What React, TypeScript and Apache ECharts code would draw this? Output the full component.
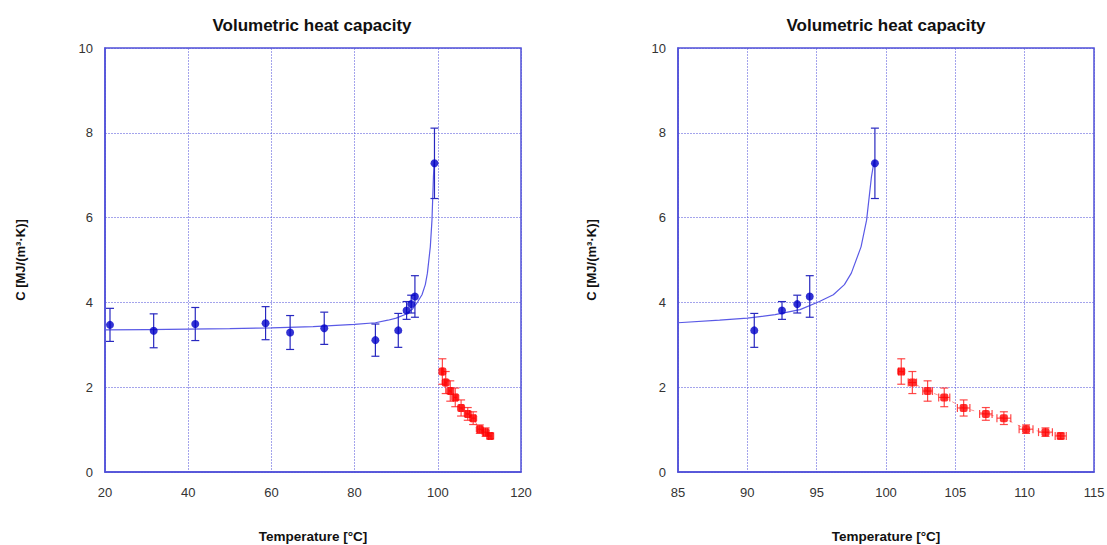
import React, { useEffect, useRef } from "react";
import * as echarts from "echarts";

// Fitted curve
const fitT = [20, 30, 40, 50, 60, 70, 80, 85, 88, 90, 92, 93.8, 95.2, 96.2, 97, 97.5, 98.2, 98.6, 98.95, 99.15];
const fitC = [3.35, 3.36, 3.37, 3.38, 3.4, 3.43, 3.48, 3.52, 3.58, 3.63, 3.71, 3.83, 4.02, 4.18, 4.42, 4.69, 5.31, 5.94, 6.96, 7.35];

// Blue measurements
const blueT = [21.2, 31.7, 41.7, 58.6, 64.5, 72.7, 85.0, 90.5, 92.5, 93.6, 94.5, 99.2];
const blueC = [3.47, 3.33, 3.49, 3.51, 3.29, 3.39, 3.11, 3.34, 3.81, 3.96, 4.14, 7.28];
const blueErr = [0.39, 0.4, 0.39, 0.39, 0.4, 0.38, 0.38, 0.4, 0.21, 0.21, 0.49, 0.83];

// Red measurements
const redT = [101.1, 101.9, 103.0, 104.2, 105.6, 107.2, 108.5, 110.1, 111.5, 112.6];
const redC = [2.37, 2.11, 1.91, 1.76, 1.51, 1.37, 1.27, 1.01, 0.94, 0.85];
const redErr = [0.3, 0.26, 0.24, 0.22, 0.19, 0.15, 0.15, 0.1, 0.1, 0.07];
const redTErr = [0.2, 0.3, 0.35, 0.4, 0.45, 0.45, 0.5, 0.5, 0.5, 0.4];

// Axis ranges
const leftX = { min: 20, max: 120, interval: 20 };
const rightX = { min: 85, max: 115, interval: 5 };

const titleText = "Volumetric heat capacity";
const xName = "Temperature [°C]";
const yName = "C [MJ/(m³·K)]";

const FONT = "'Liberation Sans', Arial, sans-serif";
const AXIS_COLOR = "#5050d8";
const GRID_COLOR = "rgba(90,90,220,0.55)";

export default function App() {
  const ref = useRef<HTMLDivElement>(null);
  useEffect(() => {
    if (!ref.current) return;
    const chart = echarts.init(ref.current, undefined, { renderer: "svg" });

    const fitData = fitT.map((t, i) => [t, fitC[i]]);

    const errRender = (color: string) => (params: any, api: any) => {
      const x = api.value(0);
      const y = api.value(1);
      const e = api.value(2);
      const xe = api.value(3);
      const top = api.coord([x, y + e]);
      const bot = api.coord([x, y - e]);
      const cap = 4;
      const style = { stroke: color, lineWidth: 1.2, fill: "none" };
      const children: any[] = [
        { type: "line", shape: { x1: top[0], y1: top[1], x2: bot[0], y2: bot[1] }, style },
        { type: "line", shape: { x1: top[0] - cap, y1: top[1], x2: top[0] + cap, y2: top[1] }, style },
        { type: "line", shape: { x1: bot[0] - cap, y1: bot[1], x2: bot[0] + cap, y2: bot[1] }, style },
      ];
      if (xe > 0) {
        const l = api.coord([x - xe, y]);
        const r = api.coord([x + xe, y]);
        children.push(
          { type: "line", shape: { x1: l[0], y1: l[1], x2: r[0], y2: r[1] }, style },
          { type: "line", shape: { x1: l[0], y1: l[1] - cap, x2: l[0], y2: l[1] + cap }, style },
          { type: "line", shape: { x1: r[0], y1: r[1] - cap, x2: r[0], y2: r[1] + cap }, style }
        );
      }
      return { type: "group", children };
    };

    const xAxisBase = (rng: { min: number; max: number; interval: number }, gridIndex: number) => ({
      type: "value",
      gridIndex,
      min: rng.min,
      max: rng.max,
      interval: rng.interval,
      name: xName,
      nameLocation: "middle",
      nameGap: 57,
      nameTextStyle: { fontFamily: FONT, fontWeight: "bold", fontSize: 13.5, color: "#111" },
      axisLine: { show: true, lineStyle: { color: AXIS_COLOR, width: 1.5 } },
      axisTick: { show: false },
      axisLabel: { fontFamily: FONT, fontSize: 13, color: "#333", margin: 14 },
      splitLine: { show: true, lineStyle: { color: GRID_COLOR, type: [2, 1], width: 1 } },
    });
    const yAxisBase = (gridIndex: number, gap: number) => ({
      type: "value",
      gridIndex,
      min: 0,
      max: 10,
      interval: 2,
      name: yName,
      nameLocation: "middle",
      nameGap: gap,
      nameRotate: 90,
      nameTextStyle: { fontFamily: FONT, fontWeight: "bold", fontSize: 13, color: "#111" },
      axisLine: { show: true, lineStyle: { color: AXIS_COLOR, width: 1.5 } },
      axisTick: { show: false },
      axisLabel: { fontFamily: FONT, fontSize: 13, color: "#333", margin: 12 },
      splitLine: { show: true, lineStyle: { color: GRID_COLOR, type: [2, 1], width: 1 } },
    });

    const seriesFor = (idx: number, rng: { min: number; max: number }) => {
      const inR = (t: number) => t > rng.min && t < rng.max;
      const blueIdx = blueT.map((_, i) => i).filter((i) => inR(blueT[i]));
      const redIdx = redT.map((_, i) => i).filter((i) => inR(redT[i]));
      const blueData = blueIdx.map((i) => [blueT[i], blueC[i]]);
      const blueErrData = blueIdx.map((i) => [blueT[i], blueC[i], blueErr[i], 0]);
      const redData = redIdx.map((i) => [redT[i], redC[i]]);
      const redErrData = redIdx.map((i) => [redT[i], redC[i], redErr[i], redTErr[i]]);
      return [
        {
          type: "line",
          xAxisIndex: idx,
          yAxisIndex: idx,
          data: fitData,
          showSymbol: false,
          symbol: "none",
          lineStyle: { color: "#5a5ae6", width: 1.2 },
          clip: true,
          z: 2,
        },
        {
          type: "line",
          xAxisIndex: idx,
          yAxisIndex: idx,
          data: redData,
          symbol: "none",
          lineStyle: { color: "rgba(255,60,60,0.55)", width: 1, type: [4, 6] },
          z: 2,
        },
        {
          type: "custom",
          xAxisIndex: idx,
          yAxisIndex: idx,
          data: blueErrData,
          renderItem: errRender("#2828c0"),
          encode: { x: 0, y: 1 },
          clip: true,
          z: 3,
        },
        {
          type: "custom",
          xAxisIndex: idx,
          yAxisIndex: idx,
          data: redErrData,
          renderItem: errRender("rgba(255,40,40,0.85)"),
          encode: { x: 0, y: 1 },
          clip: true,
          z: 3,
        },
        {
          type: "scatter",
          xAxisIndex: idx,
          yAxisIndex: idx,
          data: blueData,
          symbol: "circle",
          symbolSize: 8,
          itemStyle: { color: "#0000c8" },
          z: 4,
        },
        {
          type: "scatter",
          xAxisIndex: idx,
          yAxisIndex: idx,
          data: redData,
          symbol: "roundRect",
          symbolSize: 8,
          itemStyle: { color: "#ff0000" },
          z: 4,
        },
      ];
    };

    const gridBase = {
      top: 48,
      width: 416,
      height: 424,
      show: true,
      borderColor: AXIS_COLOR,
      borderWidth: 1.5,
      backgroundColor: "transparent",
      containLabel: false,
      outerBoundsMode: "none",
    };

    chart.setOption({
      animation: false,
      backgroundColor: "#ffffff",
      title: [
        {
          text: titleText,
          left: 307,
          top: 12,
          textAlign: "center",
          textStyle: { fontFamily: FONT, fontWeight: "bold", fontSize: 17, color: "#111" },
        },
        {
          text: titleText,
          left: 881,
          top: 12,
          textAlign: "center",
          textStyle: { fontFamily: FONT, fontWeight: "bold", fontSize: 17, color: "#111" },
        },
      ],
      grid: [
        { ...gridBase, left: 105 },
        { ...gridBase, left: 678 },
      ],
      xAxis: [xAxisBase(leftX, 0), xAxisBase(rightX, 1)],
      yAxis: [yAxisBase(0, 78), yAxisBase(1, 80)],
      series: [...seriesFor(0, leftX), ...seriesFor(1, rightX)],
    });
    return () => chart.dispose();
  }, []);
  return (
    <div
      ref={ref}
      style={{ position: "fixed", left: 0, top: 0, width: 1107, height: 545, background: "#fff" }}
    />
  );
}
